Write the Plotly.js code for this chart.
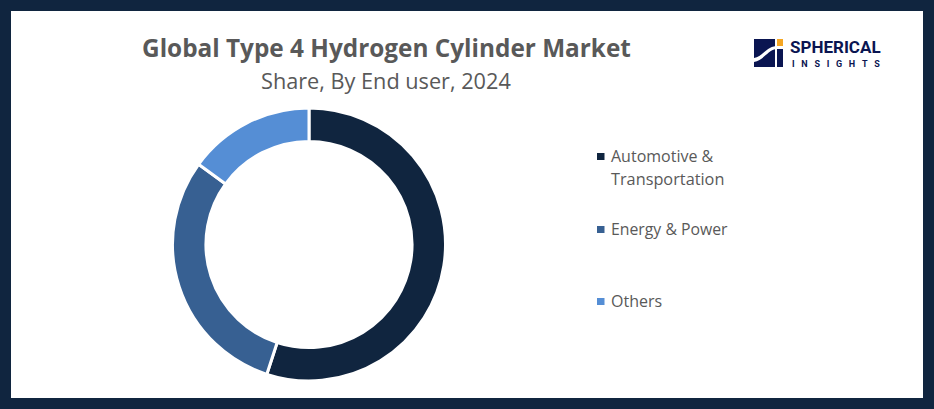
<!DOCTYPE html>
<html><head><meta charset="utf-8">
<script src="https://cdn.plot.ly/plotly-3.0.1.min.js"></script>
<style>html,body{margin:0;padding:0;background:#fff;overflow:hidden}#c{width:934px;height:409px}</style>
</head><body><div id="c"></div>
<script>
const categories = ["Automotive & Transportation", "Energy & Power", "Others"];
const shares = [55, 30, 15];
const colors = ["#10253f", "#376092", "#558ed5"];
const titleText = "Global Type 4 Hydrogen Cylinder Market";
const subtitleText = "Share, By End user, 2024";

const W = 934, H = 409, FONT = '"Open Sans", sans-serif', GREY = "#595959", NAVY = "#0a1551";
const X = p => p / W, Y = p => 1 - p / H;
const rect = (x0, y0, x1, y1, fill) => ({type:"rect", xref:"paper", yref:"paper",
  x0:X(x0), x1:X(x1), y0:Y(y0), y1:Y(y1), fillcolor:fill, line:{width:0}});
const text = (x, y, t, size, color, anchor, family) => ({xref:"paper", yref:"paper",
  x:X(x), y:Y(y), text:t, showarrow:false, xanchor:anchor, yanchor:"middle",
  font:{family:family || FONT, size:size, color:color}, align:"left"});

const frame = 11;
const shapes = [
  rect(0, 0, W, frame, "#10253f"), rect(0, H - frame, W, H, "#10253f"),
  rect(0, 0, frame, H, "#10253f"), rect(W - frame, 0, W, H, "#10253f"),
  rect(754, 39, 775, 67, NAVY), rect(777, 39, 783, 46, "#f5a623"), rect(777, 49, 783, 67, NAVY),
  {type:"path", xref:"paper", yref:"paper", fillcolor:"#ffffff", line:{width:0},
   path:`M ${X(754)} ${Y(58)} C ${X(762)} ${Y(57)} ${X(766)} ${Y(47)} ${X(776)} ${Y(46)} L ${X(776)} ${Y(49)} C ${X(768)} ${Y(50)} ${X(764)} ${Y(60)} ${X(754)} ${Y(62)} Z`},
  rect(597, 153, 604.5, 160, colors[0]),
  rect(597, 226, 604.5, 233, colors[1]),
  rect(597, 298, 604.5, 305, colors[2])
];
const nb = "&nbsp;&nbsp;&nbsp;";
const annotations = [
  text(386, 48, "<b>" + titleText + "</b>", 24.35, GREY, "center"),
  text(386, 81, subtitleText, 21.7, GREY, "center"),
  text(609, 156, "Automotive &", 16, GREY, "left"),
  text(609, 179, "Transportation", 16.3, GREY, "left"),
  text(609, 229, categories[1], 15.8, GREY, "left"),
  text(609, 301, categories[2], 16, GREY, "left"),
  text(835, 47, "<b>SPHERICAL</b>", 17, NAVY, "center", '"Roboto",sans-serif'),
  text(835.5, 63.5, "<b>" + "INSIGHTS".split("").join(nb) + "</b>", 9, NAVY, "center", '"Roboto",sans-serif')
];
const cx = 309, cy = 244.5, r = 136.5;
Plotly.newPlot("c", [{
  type:"pie", labels:categories, values:shares, hole:0.755, sort:false, direction:"clockwise", rotation:0,
  marker:{colors:colors, line:{color:"#ffffff", width:3}}, textinfo:"none", hoverinfo:"label+percent",
  domain:{x:[(cx - r) / W, (cx + r) / W], y:[1 - (cy + r) / H, 1 - (cy - r) / H]}
}], {
  width:W, height:H, margin:{l:0, r:0, t:0, b:0}, paper_bgcolor:"#ffffff",
  showlegend:false, shapes:shapes, annotations:annotations, font:{family:FONT, color:GREY}
}, {displayModeBar:false, staticPlot:true});
</script></body></html>
